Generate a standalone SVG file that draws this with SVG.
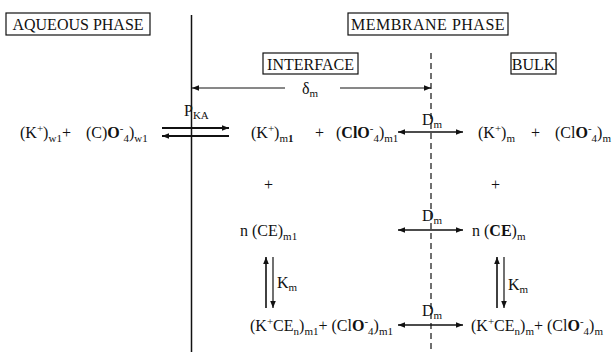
<svg xmlns="http://www.w3.org/2000/svg" width="615" height="352" viewBox="0 0 615 352">
<style>
.t{font-family:"Liberation Serif","Times New Roman",serif;font-size:16px;fill:#111}
.s{font-size:11px}
.b{font-weight:bold}
.box{fill:none;stroke:#111;stroke-width:1.2}
.ln{stroke:#111;fill:none}
</style>
<defs>
<marker id="ah" viewBox="0 0 10 8" refX="10" refY="4" markerWidth="7" markerHeight="5.6" markerUnits="userSpaceOnUse" orient="auto-start-reverse"><path d="M0,0 L10,4 L0,8 Z" fill="#111"/></marker>
</defs>
<rect width="615" height="352" fill="#fff"/>

<g id="aqueous-phase"><rect class="box" x="6" y="13" width="144" height="22"/><text class="t" x="78" y="30" text-anchor="middle">AQUEOUS PHASE</text></g>
<g id="membrane-phase"><rect class="box" x="348" y="13" width="160" height="22"/><text class="t" x="428" y="30" text-anchor="middle" letter-spacing="0.5">MEMBRANE  PHASE</text></g>
<g id="interface"><rect class="box" x="263" y="53" width="95" height="21"/><text class="t" x="310.5" y="69.5" text-anchor="middle">INTERFACE</text></g>
<g id="bulk"><rect class="box" x="511" y="53" width="45" height="21"/><text class="t" x="533.5" y="69.5" text-anchor="middle">BULK</text></g>

<g id="connectors">
<line class="ln" x1="191.5" y1="15" x2="191.5" y2="352" stroke-width="1.5"/>
<line class="ln" x1="431" y1="53" x2="431" y2="352" stroke-width="1.2" stroke-dasharray="6,4"/>
<line class="ln" x1="285" y1="88" x2="192" y2="88" stroke-width="1" marker-end="url(#ah)"/>
<line class="ln" x1="340" y1="88" x2="431" y2="88" stroke-width="1" marker-end="url(#ah)"/>
<line class="ln" x1="162" y1="128" x2="229" y2="128" stroke-width="2" marker-end="url(#ah)"/>
<line class="ln" x1="229" y1="136" x2="162" y2="136" stroke-width="2" marker-end="url(#ah)"/>
<line class="ln" x1="398" y1="132" x2="463" y2="132" stroke-width="1.6" marker-start="url(#ah)" marker-end="url(#ah)"/>
<line class="ln" x1="398" y1="230" x2="463" y2="230" stroke-width="1.6" marker-start="url(#ah)" marker-end="url(#ah)"/>
<line class="ln" x1="398" y1="325" x2="463" y2="325" stroke-width="1.6" marker-start="url(#ah)" marker-end="url(#ah)"/>
<line class="ln" x1="266" y1="308" x2="266" y2="257" stroke-width="1.6" marker-end="url(#ah)"/>
<line class="ln" x1="273" y1="257" x2="273" y2="308" stroke-width="1.2" marker-end="url(#ah)"/>
<line class="ln" x1="497" y1="308" x2="497" y2="257" stroke-width="1.6" marker-end="url(#ah)"/>
<line class="ln" x1="504" y1="257" x2="504" y2="308" stroke-width="1.2" marker-end="url(#ah)"/>
</g>

<g id="labels">
<text class="t" x="302" y="94">δ<tspan class="s" dy="3">m</tspan></text>
<text class="t" x="184" y="116">P<tspan class="s" dy="3">KA</tspan></text>
<text class="t" x="422" y="125">D<tspan class="s" dy="3">m</tspan></text>
<text class="t" x="422" y="221">D<tspan class="s" dy="3">m</tspan></text>
<text class="t" x="422" y="316">D<tspan class="s" dy="3">m</tspan></text>
<text class="t" x="277" y="288">K<tspan class="s" dy="3">m</tspan></text>
<text class="t" x="508" y="290">K<tspan class="s" dy="3">m</tspan></text>
</g>

<g id="aqueous-species">
<text class="t" x="20" y="138">(K<tspan class="s" dy="-6">+</tspan><tspan dy="6">)</tspan><tspan class="s" dy="4">w1</tspan><tspan dy="-4">+</tspan></text>
<text class="t" x="86" y="138">(C)<tspan class="b">O</tspan><tspan class="s" dy="-6">-</tspan><tspan class="s" dy="10">4</tspan><tspan dy="-4">)</tspan><tspan class="s" dy="4">w1</tspan></text>
</g>

<g id="interface-ions">
<text class="t" x="251" y="138">(K<tspan class="s" dy="-6">+</tspan><tspan dy="6">)</tspan><tspan class="s" dy="4">m</tspan><tspan class="s b">1</tspan></text>
<text class="t" x="315" y="138">+</text>
<text class="t" x="336" y="138">(<tspan class="b">ClO</tspan><tspan class="s" dy="-6">-</tspan><tspan class="s" dy="10">4</tspan><tspan dy="-4">)</tspan><tspan class="s" dy="4">m1</tspan></text>
<text class="t" x="264" y="190">+</text>
</g>

<g id="bulk-ions">
<text class="t" x="478" y="138">(K<tspan class="s" dy="-6">+</tspan><tspan dy="6">)</tspan><tspan class="s" dy="4">m</tspan></text>
<text class="t" x="531" y="138">+</text>
<text class="t" x="555" y="138">(Cl<tspan class="b">O</tspan><tspan class="s" dy="-6">-</tspan><tspan class="s" dy="10">4</tspan><tspan dy="-4">)</tspan><tspan class="s" dy="4">m</tspan></text>
<text class="t" x="491" y="190">+</text>
</g>

<g id="interface-ce"><text class="t" x="240" y="236">n  (CE)<tspan class="s" dy="4">m1</tspan></text></g>
<g id="bulk-ce"><text class="t" x="472" y="236">n  (<tspan class="b">CE</tspan>)<tspan class="s" dy="4">m</tspan></text></g>

<g id="interface-complex"><text class="t" x="250" y="331">(K<tspan class="s" dy="-6">+</tspan><tspan dy="6">CE</tspan><tspan class="s" dy="4">n</tspan><tspan dy="-4">)</tspan><tspan class="s" dy="4">m1</tspan><tspan dy="-4">+ (Cl</tspan><tspan class="b">O</tspan><tspan class="s" dy="-6">-</tspan><tspan class="s" dy="10">4</tspan><tspan dy="-4">)</tspan><tspan class="s" dy="4">m1</tspan></text></g>
<g id="bulk-complex"><text class="t" x="471" y="331">(K<tspan class="s" dy="-6">+</tspan><tspan dy="6">CE</tspan><tspan class="s" dy="4">n</tspan><tspan dy="-4">)</tspan><tspan class="s" dy="4">m</tspan><tspan dy="-4">+ (Cl</tspan><tspan class="b">O</tspan><tspan class="s" dy="-6">-</tspan><tspan class="s" dy="10">4</tspan><tspan dy="-4">)</tspan><tspan class="s" dy="4">m</tspan></text></g>
</svg>
